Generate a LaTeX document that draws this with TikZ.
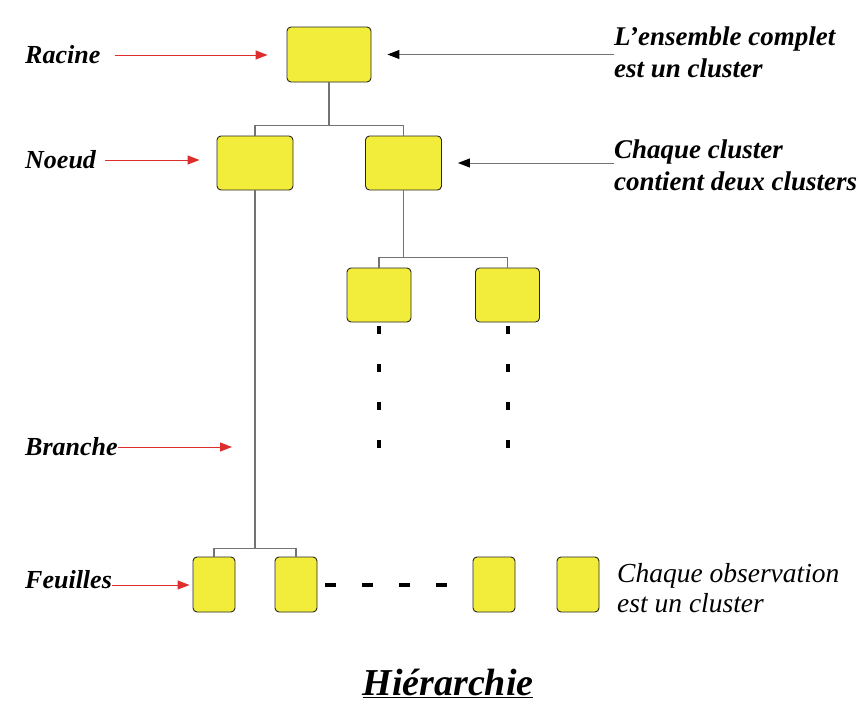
\documentclass[tikz,border=0pt]{standalone}
\usepackage{fontspec}
\setmainfont{Liberation Serif}
\usetikzlibrary{arrows.meta, positioning, calc}
\definecolor{clusteryellow}{RGB}{242,236,58}
\definecolor{arrowred}{RGB}{222,45,45}

\begin{document}
\begin{tikzpicture}[x=1pt, y=-1pt,
    cluster/.style={draw=black!85, line width=0.9pt, fill=clusteryellow, rounded corners=4pt, inner sep=0pt},
    edge/.style={draw=black!55, line width=1.1pt},
    lbl/.style={anchor=west, inner sep=0pt, font=\fontsize{26}{32}\selectfont\bfseries\itshape},
    txt/.style={lbl, align=left, font=\fontsize{27}{32}\selectfont\bfseries\itshape},
    redarrow/.style={draw=arrowred, line width=1pt, -{Triangle[length=12pt, width=9pt]}},
    blackarrow/.style={draw=black!55, line width=1pt, -{Triangle[length=12pt, width=9pt, color=black]}},
    vdots/.style={line width=4pt, dash pattern=on 8pt off 30pt},
    hdots/.style={line width=4pt, dash pattern=on 11pt off 26pt}]
    \useasboundingbox (0,0) rectangle (863,704);

    % Clusters
    \node[cluster, minimum width=84pt, minimum height=55pt] (root) at (329,54.5) {};
    \node[cluster, minimum width=76pt, minimum height=54pt] (nl) at (255,163) {};
    \node[cluster, minimum width=76pt, minimum height=54pt] (nr) at (403.5,163) {};
    \node[cluster, minimum width=64pt, minimum height=54pt] (cl) at (379,295) {};
    \node[cluster, minimum width=64pt, minimum height=54pt] (cr) at (507.5,295) {};
    \foreach \x [count=\i] in {214,296,494,578} {
      \node[cluster, minimum width=42pt, minimum height=55pt] (f\i) at (\x,584.5) {};
    }

    % Branches
    \draw[edge] (root.south) -- ++(0,43) coordinate (br) -| (nl.north);
    \draw[edge] (br) -| (nr.north);
    \draw[edge] (nr.south) -- ++(0,67) coordinate (bc) -| (cl.north);
    \draw[edge] (bc) -| (cr.north);
    \draw[edge] (nl.south) -- ++(0,358) coordinate (bf) -| (f1.north);
    \draw[edge] (bf) -| (f2.north);

    % Dots
    \draw[vdots] ([yshift=-4pt]cl.south) -- ++(0,124);
    \draw[vdots] ([yshift=-4pt]cr.south) -- ++(0,124);
    \draw[hdots] ([xshift=8pt]f2.east) -- ([xshift=-25pt]f3.west);

    % Left labels
    \node[lbl] (lracine) at (25,55) {Racine};
    \node[lbl] (lnoeud) at (25,160) {Noeud};
    \node[lbl] (lbranche) at (25,447) {Branche};
    \node[lbl] (lfeuilles) at (25,580) {Feuilles};

    \draw[redarrow, shorten <=14pt, shorten >=19pt] (lracine.east) -- (lracine.east -| root.west);
    \draw[redarrow, shorten <=9pt, shorten >=17pt] (lnoeud.east) -- (lnoeud.east -| nl.west);
    \draw[redarrow, shorten >=23pt] (lbranche.east) -- (lbranche.east -| nl.south);
    \draw[redarrow, shorten >=3pt] ([yshift=-5pt]lfeuilles.east) -- ([yshift=-5pt]lfeuilles.east -| f1.west);

    % Right texts
    \node[txt] (tens) at (614,52) {L'ensemble complet\\est un cluster};
    \node[txt] (tchaque) at (614,165) {Chaque cluster\\contient deux clusters};
    \node[txt, font=\fontsize{27.5}{30}\selectfont\itshape] (tobs) at (617,588) {Chaque observation\\est un cluster};

    \draw[blackarrow, shorten >=16pt] (tens.west |- root.east) -- (root.east);
    \draw[blackarrow, shorten >=16pt] (tchaque.west |- nr.east) -- (nr.east);

    % Title
    \node[inner sep=0pt, font=\fontsize{38}{42}\selectfont\bfseries\itshape] (titre) at (448,683) {\underline{Hiérarchie}};
  \end{tikzpicture}
\end{document}
